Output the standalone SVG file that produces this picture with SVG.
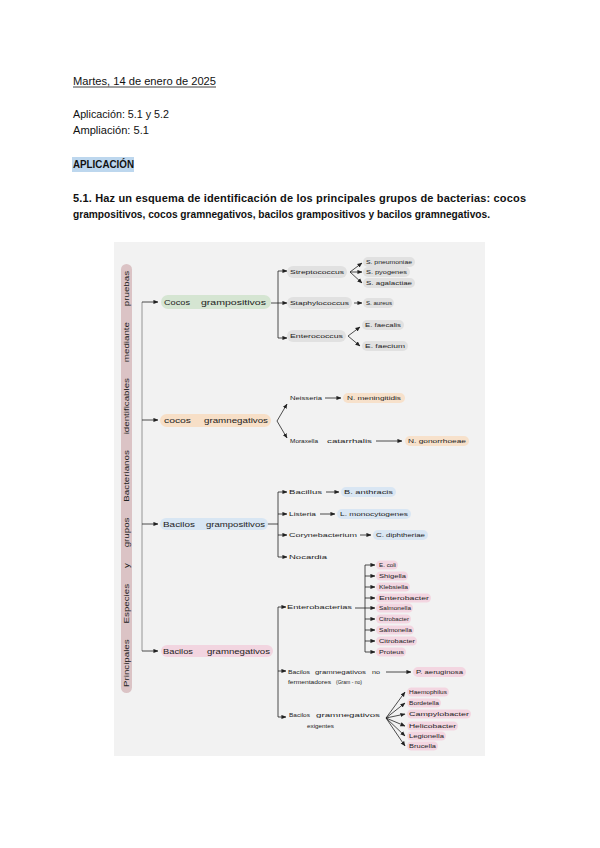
<svg xmlns="http://www.w3.org/2000/svg" width="600" height="848" viewBox="0 0 600 848">
<style>
.h{font-family:"Liberation Sans",Arial,sans-serif;font-size:11px;fill:#111}
.b{font-weight:bold}
.t{font-family:"Liberation Sans",Arial,sans-serif;font-size:6.2px;fill:#222}
.m{font-family:"Liberation Sans",Arial,sans-serif;font-size:7.4px;fill:#222}
.v{font-family:"Liberation Sans",Arial,sans-serif;font-size:7.4px;fill:#222;word-spacing:10px}
.c{fill:none;stroke:#222;stroke-width:0.8}
.g{fill:none;stroke:#8a8a8a;stroke-width:0.9}
.gr{fill:#e1e1e1}
.pe{fill:#f7e1cb}
.bl{fill:#d9e6f3}
.pk{fill:#f3d6e1}
</style>
<defs>
<marker id="ah" viewBox="0 0 6 6" refX="5.5" refY="3" markerWidth="5" markerHeight="5" orient="auto" markerUnits="userSpaceOnUse">
<path d="M0,0.5 L6,3 L0,5.5 Z" fill="#222"/>
</marker>
</defs>
<rect width="600" height="848" fill="#fff"/>
<g id="header">
<text class="h" x="73" y="85" textLength="143" lengthAdjust="spacingAndGlyphs">Martes, 14 de enero de 2025</text>
<line x1="73" y1="87" x2="216" y2="87" stroke="#111" stroke-width="0.8"/>
<text class="h" x="73" y="118" textLength="96" lengthAdjust="spacingAndGlyphs">Aplicación: 5.1 y 5.2</text>
<text class="h" x="73" y="134" textLength="76" lengthAdjust="spacingAndGlyphs">Ampliación: 5.1</text>
<rect x="72" y="157" width="62" height="15" fill="#bdd7ee"/>
<text class="h b" x="73" y="168" textLength="61" lengthAdjust="spacingAndGlyphs">APLICACIÓN</text>
<text class="h b" x="73" y="202" textLength="453" lengthAdjust="spacing">5.1. Haz un esquema de identificación de los principales grupos de bacterias: cocos</text>
<text class="h b" x="73" y="218" textLength="417" lengthAdjust="spacingAndGlyphs">grampositivos, cocos gramnegativos, bacilos grampositivos y bacilos gramnegativos.</text>
</g>
<rect x="114" y="242" width="371" height="514" fill="#f2f2f2"/>
<g id="title">
<rect x="121" y="264" width="11" height="429" rx="5.5" fill="#dbc3c5"/>
<text class="v" transform="translate(129,479) rotate(-90)" x="0" y="0" text-anchor="middle" textLength="416" lengthAdjust="spacingAndGlyphs">Principales Especies y grupos Bacterianos identificables mediante pruebas</text>
</g>
<g id="connectors">
<path class="g" d="M142,302 V651"/>
<path class="c" d="M142,302 H158" marker-end="url(#ah)"/>
<path class="c" d="M142,420 H158" marker-end="url(#ah)"/>
<path class="c" d="M142,524 H158" marker-end="url(#ah)"/>
<path class="c" d="M142,651 H158" marker-end="url(#ah)"/>
<path class="c" d="M271,303 H278 M278,271 V338"/>
<path class="c" d="M278,271 H287" marker-end="url(#ah)"/>
<path class="c" d="M278,303 H287" marker-end="url(#ah)"/>
<path class="c" d="M278,338 H287" marker-end="url(#ah)"/>
<path class="c" d="M350,272 L362,263" marker-end="url(#ah)"/>
<path class="c" d="M350,272 L362,272" marker-end="url(#ah)"/>
<path class="c" d="M350,272 L362,283" marker-end="url(#ah)"/>
<path class="c" d="M354,303 H362" marker-end="url(#ah)"/>
<path class="c" d="M348,336 L360,327" marker-end="url(#ah)"/>
<path class="c" d="M348,336 L360,346" marker-end="url(#ah)"/>
<path class="c" d="M277,421 L287,404" marker-end="url(#ah)"/>
<path class="c" d="M277,421 L287,438" marker-end="url(#ah)"/>
<path class="c" d="M325,398 H341" marker-end="url(#ah)"/>
<path class="c" d="M376,441 H402" marker-end="url(#ah)"/>
<path class="c" d="M267,524 H278 M278,492 V557"/>
<path class="c" d="M278,492 H287" marker-end="url(#ah)"/>
<path class="c" d="M278,514 H287" marker-end="url(#ah)"/>
<path class="c" d="M278,535 H287" marker-end="url(#ah)"/>
<path class="c" d="M278,557 H287" marker-end="url(#ah)"/>
<path class="c" d="M326,492 H339" marker-end="url(#ah)"/>
<path class="c" d="M320,514 H335" marker-end="url(#ah)"/>
<path class="c" d="M360,535 H371" marker-end="url(#ah)"/>
<path class="c" d="M278,607 V717"/>
<path class="c" d="M278,607 H286" marker-end="url(#ah)"/>
<path class="c" d="M278,671 H286" marker-end="url(#ah)"/>
<path class="c" d="M278,717 H286" marker-end="url(#ah)"/>
<path class="c" d="M365,565 V652"/>
<path class="c" d="M355,608 H375" marker-end="url(#ah)"/>
<path class="c" d="M365,565 H375" marker-end="url(#ah)"/>
<path class="c" d="M365,576 H375" marker-end="url(#ah)"/>
<path class="c" d="M365,587 H375" marker-end="url(#ah)"/>
<path class="c" d="M365,598 H375" marker-end="url(#ah)"/>
<path class="c" d="M365,619 H375" marker-end="url(#ah)"/>
<path class="c" d="M365,630 H375" marker-end="url(#ah)"/>
<path class="c" d="M365,641 H375" marker-end="url(#ah)"/>
<path class="c" d="M365,652 H375" marker-end="url(#ah)"/>
<path class="c" d="M386,672 H411" marker-end="url(#ah)"/>
<path class="c" d="M386,718 L405,692" marker-end="url(#ah)"/>
<path class="c" d="M386,718 L405,703" marker-end="url(#ah)"/>
<path class="c" d="M386,718 L405,714" marker-end="url(#ah)"/>
<path class="c" d="M386,718 L405,726" marker-end="url(#ah)"/>
<path class="c" d="M386,718 L405,736" marker-end="url(#ah)"/>
<path class="c" d="M386,718 L405,746" marker-end="url(#ah)"/>
</g>
<g id="cocos-grampositivos">
<rect x="161" y="295" width="110" height="14" rx="7" fill="#d5e5d2"/>
<text class="m" x="164" y="304.8" textLength="26" lengthAdjust="spacingAndGlyphs">Cocos</text>
<text class="m" x="201" y="304.8" textLength="65" lengthAdjust="spacingAndGlyphs">grampositivos</text>
</g>
<g id="streptococcus"><rect class="gr" x="287" y="266" width="60" height="12" rx="6"/><text class="t" x="290" y="274.2" textLength="54" lengthAdjust="spacingAndGlyphs">Streptococcus</text></g>
<g id="s-pneumoniae"><rect class="gr" x="363" y="257" width="52" height="10" rx="5"/><text class="t" x="366" y="264.2" textLength="46" lengthAdjust="spacingAndGlyphs">S. pneumoniae</text></g>
<g id="s-pyogenes"><rect class="gr" x="363" y="267" width="47" height="10" rx="5"/><text class="t" x="366" y="274.2" textLength="41" lengthAdjust="spacingAndGlyphs">S. pyogenes</text></g>
<g id="s-agalactiae"><rect class="gr" x="363" y="278" width="52" height="10" rx="5"/><text class="t" x="366" y="285.2" textLength="46" lengthAdjust="spacingAndGlyphs">S.  agalactiae</text></g>
<g id="staphylococcus"><rect class="gr" x="287" y="297" width="65" height="12" rx="6"/><text class="t" x="290" y="305.2" textLength="59" lengthAdjust="spacingAndGlyphs">Staphylococcus</text></g>
<g id="s-aureus"><rect class="gr" x="363" y="298" width="31" height="10" rx="5"/><text class="t" x="366" y="305.2" textLength="26" lengthAdjust="spacingAndGlyphs">S. aureus</text></g>
<g id="enterococcus"><rect class="gr" x="287" y="330" width="59" height="12" rx="6"/><text class="t" x="290" y="338.2" textLength="53" lengthAdjust="spacingAndGlyphs">Enterococcus</text></g>
<g id="e-faecalis"><rect class="gr" x="362" y="320" width="42" height="10" rx="5"/><text class="t" x="365" y="327.2" textLength="36" lengthAdjust="spacingAndGlyphs">E. faecalis</text></g>
<g id="e-faecium"><rect class="gr" x="362" y="341" width="46" height="10" rx="5"/><text class="t" x="365" y="348.2" textLength="40" lengthAdjust="spacingAndGlyphs">E. faecium</text></g>
<g id="cocos-gramnegativos">
<rect x="160" y="414" width="111" height="13" rx="6.5" fill="#f7dfc7"/>
<text class="m" x="164" y="423.3" textLength="27" lengthAdjust="spacingAndGlyphs">cocos</text>
<text class="m" x="204" y="423.3" textLength="64" lengthAdjust="spacingAndGlyphs">gramnegativos</text>
</g>
<g id="neisseria"><text class="t" x="290" y="400.2" textLength="32" lengthAdjust="spacingAndGlyphs">Neisseria</text></g>
<g id="n-meningitidis"><rect class="pe" x="343" y="393" width="62" height="10" rx="5"/><text class="t" x="347" y="400.2" textLength="54" lengthAdjust="spacingAndGlyphs">N. meningitidis</text></g>
<g id="moraxella">
<text class="t" x="290" y="443.2" textLength="28" lengthAdjust="spacingAndGlyphs">Moraxella</text>
<text class="t" x="327" y="443.2" textLength="45" lengthAdjust="spacingAndGlyphs">catarrhalis</text>
</g>
<g id="n-gonorrhoeae"><rect class="pe" x="405" y="436" width="64" height="10" rx="5"/><text class="t" x="408" y="443.2" textLength="58" lengthAdjust="spacingAndGlyphs">N. gonorrhoeae</text></g>
<g id="bacilos-grampositivos">
<rect x="160" y="518" width="108" height="12" rx="6" fill="#d8e6f3"/>
<text class="m" x="163" y="526.8" textLength="32" lengthAdjust="spacingAndGlyphs">Bacilos</text>
<text class="m" x="206" y="526.8" textLength="59" lengthAdjust="spacingAndGlyphs">grampositivos</text>
</g>
<g id="bacillus"><text class="t" x="289" y="494.2" textLength="33" lengthAdjust="spacingAndGlyphs">Bacillus</text></g>
<g id="b-anthracis"><rect class="bl" x="341" y="487" width="55" height="10" rx="5"/><text class="t" x="344" y="494.2" textLength="49" lengthAdjust="spacingAndGlyphs">B. anthracis</text></g>
<g id="listeria"><text class="t" x="289" y="516.2" textLength="27" lengthAdjust="spacingAndGlyphs">Listeria</text></g>
<g id="l-monocytogenes"><rect class="bl" x="337" y="509" width="74" height="10" rx="5"/><text class="t" x="340" y="516.2" textLength="68" lengthAdjust="spacingAndGlyphs">L. monocytogenes</text></g>
<g id="corynebacterium"><text class="t" x="289" y="537.2" textLength="68" lengthAdjust="spacingAndGlyphs">Corynebacterium</text></g>
<g id="c-diphtheriae"><rect class="bl" x="373" y="530" width="55" height="10" rx="5"/><text class="t" x="376" y="537.2" textLength="49" lengthAdjust="spacingAndGlyphs">C. diphtheriae</text></g>
<g id="nocardia"><text class="t" x="289" y="559.2" textLength="38" lengthAdjust="spacingAndGlyphs">Nocardia</text></g>
<g id="bacilos-gramnegativos">
<rect x="161" y="645" width="112" height="12" rx="6" fill="#f2d5e0"/>
<text class="m" x="163" y="653.8" textLength="30" lengthAdjust="spacingAndGlyphs">Bacilos</text>
<text class="m" x="207" y="653.8" textLength="63" lengthAdjust="spacingAndGlyphs">gramnegativos</text>
</g>
<g id="enterobacterias"><text class="t" x="287" y="609.2" textLength="65" lengthAdjust="spacingAndGlyphs">Enterobacterias</text></g>
<g id="e-coli"><rect class="pk" x="376" y="560.5" width="22" height="9" rx="4.5"/><text class="t" x="379" y="567.2" textLength="17" lengthAdjust="spacingAndGlyphs">E. coli</text></g>
<g id="shigella"><rect class="pk" x="376" y="571.5" width="32" height="9" rx="4.5"/><text class="t" x="379" y="578.2" textLength="27" lengthAdjust="spacingAndGlyphs">Shigella</text></g>
<g id="klebsiella"><rect class="pk" x="376" y="582.5" width="34" height="9" rx="4.5"/><text class="t" x="379" y="589.2" textLength="29" lengthAdjust="spacingAndGlyphs">Klebsiella</text></g>
<g id="enterobacter"><rect class="pk" x="376" y="593.5" width="55" height="9" rx="4.5"/><text class="t" x="379" y="600.2" textLength="50" lengthAdjust="spacingAndGlyphs">Enterobacter</text></g>
<g id="salmonella-1"><rect class="pk" x="376" y="603.5" width="37" height="9" rx="4.5"/><text class="t" x="379" y="610.2" textLength="32" lengthAdjust="spacingAndGlyphs">Salmonella</text></g>
<g id="citrobacter-1"><rect class="pk" x="376" y="614.5" width="35" height="9" rx="4.5"/><text class="t" x="379" y="621.2" textLength="30" lengthAdjust="spacingAndGlyphs">Citrobacter</text></g>
<g id="salmonella-2"><rect class="pk" x="376" y="625.5" width="38" height="9" rx="4.5"/><text class="t" x="379" y="632.2" textLength="33" lengthAdjust="spacingAndGlyphs">Salmonella</text></g>
<g id="citrobacter-2"><rect class="pk" x="376" y="636.5" width="41" height="9" rx="4.5"/><text class="t" x="379" y="643.2" textLength="36" lengthAdjust="spacingAndGlyphs">Citrobacter</text></g>
<g id="proteus"><rect class="pk" x="376" y="647.5" width="30" height="9" rx="4.5"/><text class="t" x="379" y="654.2" textLength="25" lengthAdjust="spacingAndGlyphs">Proteus</text></g>
<g id="no-fermentadores">
<text class="t" x="288" y="673.5" textLength="22" lengthAdjust="spacingAndGlyphs">Bacilos</text>
<text class="t" x="315" y="673.5" textLength="51" lengthAdjust="spacingAndGlyphs">gramnegativos</text>
<text class="t" x="372" y="673.5" textLength="8" lengthAdjust="spacingAndGlyphs">no</text>
<text class="t" x="288" y="684" textLength="43" lengthAdjust="spacingAndGlyphs">fermentadores</text>
<text class="t" x="336" y="684" textLength="26" lengthAdjust="spacingAndGlyphs">(Gram - no)</text>
</g>
<g id="p-aeruginosa"><rect class="pk" x="413" y="667" width="53" height="10" rx="5"/><text class="t" x="416" y="674.2" textLength="47" lengthAdjust="spacingAndGlyphs">P. aeruginosa</text></g>
<g id="exigentes">
<text class="t" x="289" y="717" textLength="21" lengthAdjust="spacingAndGlyphs">Bacilos</text>
<text class="t" x="316" y="717" textLength="64" lengthAdjust="spacingAndGlyphs">gramnegativos</text>
<text class="t" x="307" y="728" textLength="27" lengthAdjust="spacingAndGlyphs">exigentes</text>
</g>
<g id="haemophilus"><rect class="pk" x="407" y="687.5" width="42" height="9" rx="4.5"/><text class="t" x="409" y="694.2" textLength="38" lengthAdjust="spacingAndGlyphs">Haemophilus</text></g>
<g id="bordetella"><rect class="pk" x="407" y="698.5" width="34" height="9" rx="4.5"/><text class="t" x="409" y="705.2" textLength="30" lengthAdjust="spacingAndGlyphs">Bordetella</text></g>
<g id="campylobacter"><rect class="pk" x="407" y="709.5" width="64" height="9" rx="4.5"/><text class="t" x="409" y="716.2" textLength="60" lengthAdjust="spacingAndGlyphs">Campylobacter</text></g>
<g id="helicobacter"><rect class="pk" x="407" y="721.5" width="51" height="9" rx="4.5"/><text class="t" x="409" y="728.2" textLength="47" lengthAdjust="spacingAndGlyphs">Helicobacter</text></g>
<g id="legionella"><rect class="pk" x="407" y="731.5" width="39" height="9" rx="4.5"/><text class="t" x="409" y="738.2" textLength="35" lengthAdjust="spacingAndGlyphs">Legionella</text></g>
<g id="brucella"><rect class="pk" x="407" y="741.5" width="31" height="9" rx="4.5"/><text class="t" x="409" y="748.2" textLength="27" lengthAdjust="spacingAndGlyphs">Brucella</text></g>
</svg>
